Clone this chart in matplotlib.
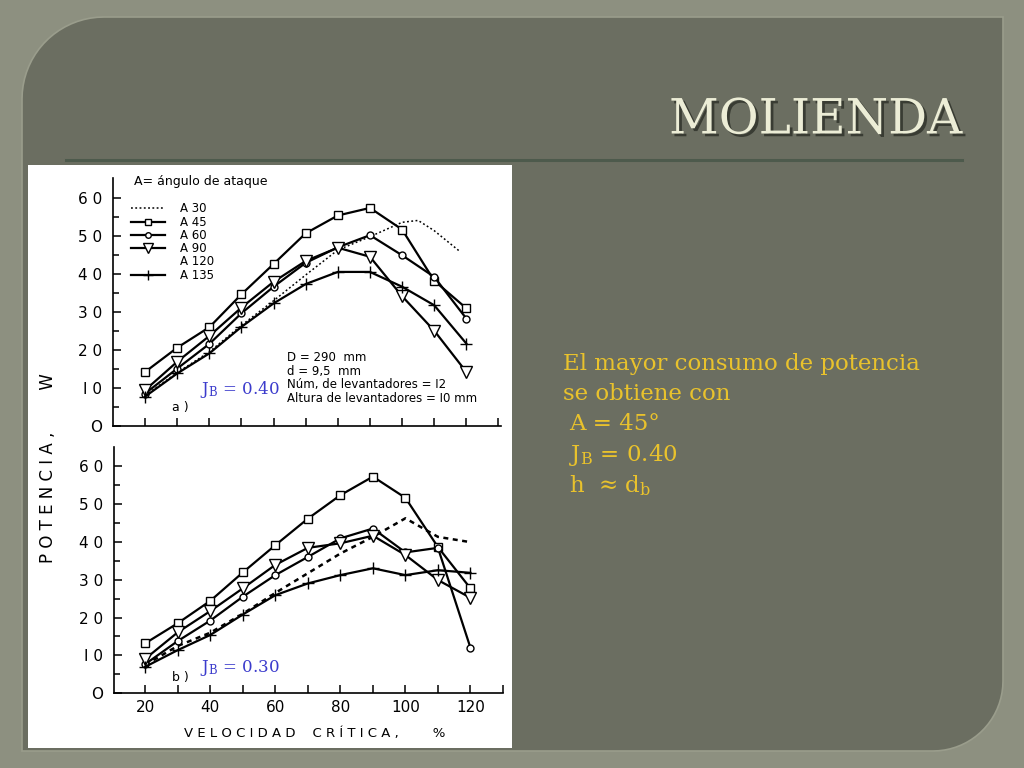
import numpy as np
import matplotlib
matplotlib.use("Agg")
import matplotlib.pyplot as plt
from matplotlib.lines import Line2D
from matplotlib.patches import Rectangle, PathPatch
from matplotlib.path import Path
import matplotlib.patheffects as pe

plt.rcParams['mathtext.fontset'] = 'dejavuserif'

# velocidad critica, %
vel = [20, 30, 40, 50, 60, 70, 80, 90, 100, 110, 120]
vel_a30 = [20, 30, 40, 50, 60, 70, 80, 90, 100, 105, 110, 118]

# panel a) J_B = 0.40
a_30 = [8.0, 14.0, 19.5, 26.5, 33.0, 39.8, 46.4, 49.9, 53.7, 54.2, 51.5, 46.0]
a_45 = [14.2, 20.6, 26.0, 34.7, 42.7, 50.8, 55.5, 57.5, 51.8, 38.3, 31.0]
a_60 = [8.5, 15.1, 21.6, 29.7, 36.7, 43.0, 47.1, 50.3, 45.0, 39.3, 28.3]
a_90 = [9.4, 16.9, 23.7, 31.2, 38.0, 43.5, 47.0, 44.6, 34.2, 25.1, 14.2]
a_135 = [7.7, 13.8, 19.1, 26.1, 32.3, 37.4, 40.6, 40.6, 36.7, 31.8, 21.7]

# panel b) J_B = 0.30
vel_b30 = [20, 30, 40, 50, 60, 70, 80, 90, 100, 110, 120]
b_30 = [7.5, 12.5, 16.0, 21.0, 26.5, 31.7, 36.9, 41.3, 46.2, 41.3, 39.9]
b_45 = [13.2, 18.5, 24.4, 31.9, 39.1, 46.1, 52.3, 57.2, 51.6, 38.6, 27.7]
b_60 = [7.7, 13.8, 19.2, 25.5, 31.2, 36.0, 40.9, 43.5, 37.2, 38.4, 12.0]
b_90 = [9.1, 16.1, 21.7, 27.7, 33.9, 38.4, 39.6, 41.6, 36.5, 29.9, 25.2]
b_135 = [7.0, 11.4, 15.4, 20.8, 25.9, 29.0, 31.2, 33.0, 31.2, 32.5, 31.8]

legend_labels = ["A 30", "A 45", "A 60", "A 90", "A 120", "A 135"]
yticks = [0, 10, 20, 30, 40, 50, 60]
ytick_labels = ["O", "I 0", "2 0", "3 0", "4 0", "5 0", "6 0"]
xticks_lab = [20, 40, 60, 80, 100, 120]

W, H = 1024, 768
fig = plt.figure(figsize=(W / 100, H / 100), dpi=100)
fig.patch.set_facecolor("#8d9080")


def fx(px):
    return px / W


def fy(py):
    return 1 - py / H


# slide panel with rounded top-left and bottom-right corners
x0, x1, y0, y1 = 22, 1003, 17, 751
r1, r2 = 82, 70
t = np.linspace(0, np.pi / 2, 20)
verts = []
verts += [(x0 + r1 - r1 * np.cos(a), y0 + r1 - r1 * np.sin(a)) for a in t]
verts += [(x1, y0), (x1, y1 - r2)]
verts += [(x1 - r2 + r2 * np.cos(a), y1 - r2 + r2 * np.sin(a)) for a in t]
verts += [(x0, y1), (x0, y0 + r1)]
verts = [(fx(a), fy(b)) for a, b in verts]
panel = PathPatch(Path(verts + [verts[0]]), transform=fig.transFigure,
                  facecolor="#6b6e61", edgecolor="#9a9d8c", lw=1.2, zorder=0)
fig.patches.append(panel)

# title and rule
fig.text(fx(962), fy(120), "MOLIENDA", ha="right", va="center", family="DejaVu Serif",
         fontsize=35, color="#ecedd6",
         path_effects=[pe.withSimplePatchShadow(offset=(2, -2), shadow_rgbFace="#2d3028", alpha=0.8)])
fig.add_artist(Line2D([fx(66), fx(962)], [fy(160), fy(160)], color="#4d5a4c", lw=2.2))

# white picture area
fig.patches.append(Rectangle((fx(28), fy(748)), fx(512) - fx(28), fy(165) - fy(748),
                             transform=fig.transFigure, facecolor="white", edgecolor="none", zorder=1))

line_kw = dict(color="black", lw=1.6, markerfacecolor="white", markeredgecolor="black",
               markeredgewidth=1.0, zorder=3)


def style_axes(ax, show_xlabels):
    ax.set_zorder(5)
    ax.set_facecolor("white")
    for s in ["top", "right"]:
        ax.spines[s].set_visible(False)
    for s in ["left", "bottom"]:
        ax.spines[s].set_linewidth(1.2)
    ax.set_yticks(yticks)
    ax.set_yticklabels(ytick_labels, fontsize=11, family="DejaVu Sans")
    ax.set_yticks(np.arange(5, 65, 10), minor=True)
    ax.set_xticks(np.arange(20, 131, 10))
    ax.set_xticks([], minor=True)
    if show_xlabels:
        ax.set_xticklabels([str(v) if v in xticks_lab else "" for v in range(20, 131, 10)],
                           fontsize=11, family="DejaVu Sans")
    else:
        ax.set_xticklabels([])
    ax.tick_params(direction="in", length=6, width=1.1, pad=5)
    ax.tick_params(which="minor", direction="in", length=4, width=1.1)
    ax.tick_params(axis="y", pad=8)


def draw(ax, v30, s30, s45, s60, s90, s135, dotted):
    ax.plot(v30, s30, linestyle=dotted[0], dashes=dotted[1], color="black", lw=dotted[2], zorder=2)
    ax.plot(vel, s45, marker="s", markersize=5.5, **line_kw)
    ax.plot(vel, s60, marker="o", markersize=5, **line_kw)
    ax.plot(vel, s90, marker="v", markersize=8.5, **line_kw)
    ax.plot(vel, s135, marker="+", markersize=8, **line_kw)


# panel a)
axa = fig.add_axes([fx(113), fy(425.7), fx(501) - fx(113), fy(178) - fy(425.7)])
axa.set_xlim(10, 130.8)
axa.set_ylim(0, 65.4)
draw(axa, vel_a30, a_30, a_45, a_60, a_90, a_135, ("--", (1.2, 1.6), 1.1))
style_axes(axa, False)

handles = [
    Line2D([], [], color="black", lw=1.1, linestyle=(0, (1.2, 1.6))),
    Line2D([], [], marker="s", markersize=5, **line_kw),
    Line2D([], [], marker="o", markersize=4, **line_kw),
    Line2D([], [], marker="v", markersize=7.5, **line_kw),
    Line2D([], [], color="none"),
    Line2D([], [], marker="+", markersize=7, **line_kw),
]
axa.legend(handles, legend_labels, loc="upper left", bbox_to_anchor=(0.03, 0.925),
           frameon=False, fontsize=8.5, handlelength=2.9, labelspacing=0.02,
           handletextpad=1.3, borderpad=0)
axa.text(0.055, 0.985, "A= ángulo de ataque", transform=axa.transAxes, fontsize=9,
         va="center", ha="left")
axa.text(fx(287), fy(378), "D = 290  mm\nd = 9,5  mm\nNúm, de levantadores = I2\nAltura de levantadores = I0 mm",
         transform=fig.transFigure, fontsize=8.5, va="center", ha="left", linespacing=1.05)
axa.text(fx(172), fy(407), "a )", transform=fig.transFigure, fontsize=9, va="center")
axa.text(fx(200), fy(390), r"J$_{\rm B}$ = 0.40", transform=fig.transFigure, color="#3b3bcc",
         family="DejaVu Serif", fontsize=12, va="center")

# panel b)
axb = fig.add_axes([fx(114), fy(693.3), fx(503) - fx(114), fy(446.7) - fy(693.3)])
axb.set_xlim(10.4, 130)
axb.set_ylim(0, 65.1)
draw(axb, vel_b30, b_30, b_45, b_60, b_90, b_135, ("--", (2.0, 1.8), 1.8))
style_axes(axb, True)
axb.text(fx(172), fy(677), "b )", transform=fig.transFigure, fontsize=9, va="center")
axb.text(fx(200), fy(668), r"J$_{\rm B}$ = 0.30", transform=fig.transFigure, color="#3b3bcc",
         family="DejaVu Serif", fontsize=12, va="center")

# axis titles
fig.text(fx(48), fy(468), "P O T E N C I A ,        W", rotation=90, ha="center", va="center",
         fontsize=12, zorder=6)
fig.text(fx(315), fy(733), "V E L O C I D A D    C R Í T I C A ,        %", ha="center",
         va="center", fontsize=9.5, zorder=6)

# slide text
txt_kw = dict(color="#e9c22c", family="DejaVu Serif", fontsize=16.5, va="center", ha="left")
fig.text(fx(563), fy(364), "El mayor consumo de potencia", **txt_kw)
fig.text(fx(563), fy(394), "se obtiene con", **txt_kw)
fig.text(fx(569), fy(424), "A = 45°", **txt_kw)
fig.text(fx(569), fy(455), r"J$_{\rm B}$ = 0.40", **txt_kw)
fig.text(fx(569), fy(486), r"h  ≈ d$_{\rm b}$", **txt_kw)

fig.savefig("out.png", dpi=100, facecolor=fig.get_facecolor())
